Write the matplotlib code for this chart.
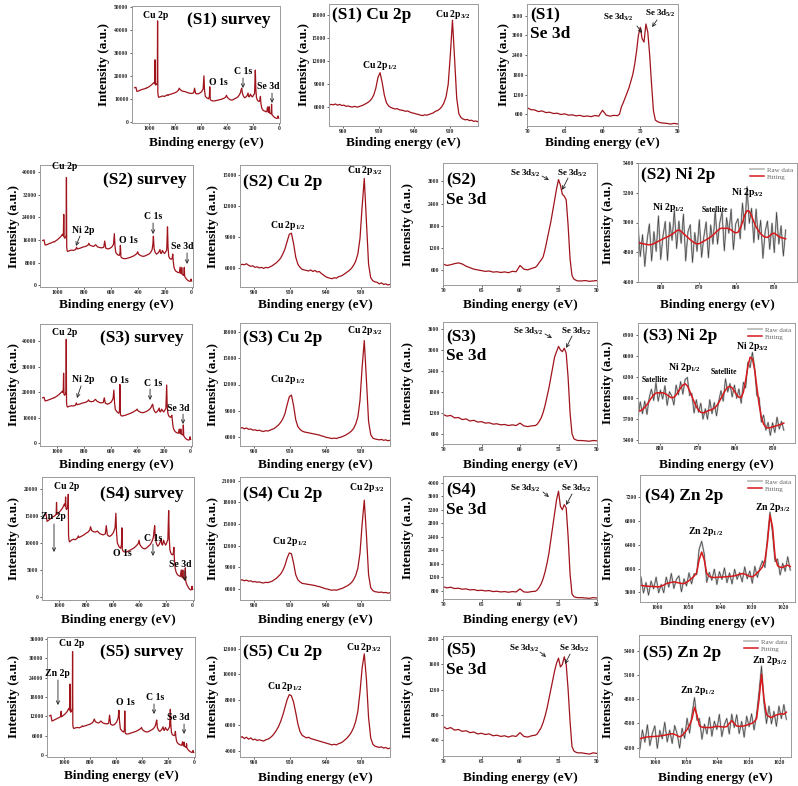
import numpy as np
import matplotlib
matplotlib.use("Agg")
from matplotlib import pyplot as plt

plt.rcParams['font.family'] = ['Liberation Serif', 'DejaVu Serif']
plt.rcParams['font.weight'] = 'bold'
plt.rcParams['mathtext.fontset'] = 'custom'
plt.rcParams['mathtext.rm'] = 'Liberation Serif:bold'
plt.rcParams['mathtext.it'] = 'Liberation Serif:bold'
plt.rcParams['mathtext.bf'] = 'Liberation Serif:bold'

# ---------------- survey spectra (shared energy axis) ----------------
survey_ev = [1110, 1100, 1092, 1080, 1065, 1050, 1035, 1024, 1021, 1018,
             1005, 990, 975, 962, 956, 953, 950, 946, 940, 935,
             933, 931, 928, 924, 910, 895, 880, 865, 857, 853,
             845, 830, 815, 800, 785, 772, 766, 758, 745, 730,
             715, 700, 685, 670, 655, 648, 640, 625, 610, 595,
             582, 576, 571, 565, 552, 540, 534, 531, 527, 518,
             505, 490, 475, 460, 445, 430, 418, 408, 402, 396,
             385, 372, 358, 345, 332, 318, 305, 295, 289, 285,
             280, 272, 262, 252, 243, 236, 232, 226, 218, 210,
             202, 194, 186, 180, 176, 171, 165, 158, 150, 145,
             141, 137, 131, 124, 116, 108, 100, 92, 86, 80,
             77, 74, 70, 64, 58, 55, 52, 48, 42, 35,
             28, 20, 14, 9, 5, 2, 0]
s1_survey = [14800, 15000, 13200, 13400, 13800, 14100, 14300, 14600, 14500, 14700,
             15000, 15600, 16300, 17000, 16600, 27000, 16200, 16000, 16400, 17200,
             44000, 13000, 11200, 10600, 10900, 11200, 11000, 11500, 11700, 11400,
             11800, 12000, 12300, 12600, 13000, 13800, 14600, 13900, 13400, 13200,
             13000, 12600, 12400, 12300, 12600, 14600, 12300, 12100, 12400, 13000,
             14200, 20000, 13500, 11000, 10300, 10000, 11000, 15200, 9600, 9200,
             9000, 9100, 9300, 9500, 9700, 10000, 10300, 10800, 11500, 10600,
             10000, 9500, 9400, 9800, 10200, 10600, 11500, 12600, 14000, 14600,
             12500, 11200, 10400, 10800, 11400, 12500, 11000, 10800, 12000, 11200,
             10800, 11600, 12200, 22500, 14000, 10500, 9500, 9000, 8800, 9400,
             11000, 8000, 6000, 5200, 4800, 4600, 4400, 4300, 6400, 4100,
             4000, 6500, 3800, 3500, 3400, 7600, 3200, 2800, 2400, 2000,
             1700, 1500, 1400, 1600, 2500, 1800, 1500]
s2_survey = [15800, 16000, 14200, 14300, 14600, 14900, 15200, 15400, 15300, 15500,
             15900, 16500, 17200, 18000, 17400, 25000, 17000, 16600, 16900, 17600,
             38000, 13600, 12300, 11900, 12200, 12400, 12300, 12600, 13400, 12800,
             12900, 13100, 13400, 13600, 13800, 14200, 14800, 14100, 13900, 13700,
             14300, 13500, 13300, 13200, 13400, 15600, 13100, 12800, 13000, 13500,
             14500, 18200, 13600, 11500, 10800, 10500, 11300, 14100, 10000, 9600,
             9400, 9400, 9600, 9800, 10100, 10400, 10800, 11200, 11800, 11000,
             10600, 10300, 10200, 10400, 10700, 11000, 11600, 12500, 14500, 17300,
             13000, 11600, 11000, 11300, 11900, 12600, 11400, 11200, 12300, 11600,
             11200, 11800, 12400, 20600, 13500, 10300, 9600, 9300, 9200, 9600,
             11000, 8400, 6200, 5400, 4900, 4700, 4500, 4400, 6400, 4200,
             4100, 6200, 3900, 3600, 3500, 6300, 3200, 2800, 2400, 2000,
             1700, 1500, 1400, 1500, 2200, 1700, 1500]
s3_survey = [17800, 18000, 16600, 16700, 17000, 17300, 17600, 17900, 17800, 18000,
             18400, 19000, 19700, 20400, 19800, 27400, 19200, 18800, 19200, 20000,
             40600, 16000, 14600, 14200, 14500, 14700, 14600, 14900, 15800, 15100,
             15200, 15400, 15700, 15900, 16100, 16500, 17000, 16400, 16300, 16400,
             17200, 16400, 16000, 15800, 16000, 17800, 15700, 15300, 15600, 16200,
             17500, 20800, 16000, 13200, 12300, 11800, 12600, 23000, 11200, 10700,
             10800, 11000, 11300, 11600, 11900, 12300, 12700, 13000, 13400, 12800,
             12400, 12100, 12000, 12200, 12500, 12900, 13500, 14200, 15000, 15300,
             13800, 12600, 12000, 12400, 13000, 13800, 12500, 12300, 13400, 12700,
             12300, 13000, 13600, 22800, 14500, 11800, 10800, 10400, 10200, 10600,
             11000, 8800, 6200, 5200, 4600, 4300, 4100, 4000, 5600, 3900,
             3800, 5600, 3700, 3400, 3300, 7200, 3000, 2600, 2200, 1800,
             1500, 1400, 1300, 1500, 2600, 1800, 1600]
s4_survey = [15200, 15400, 14000, 14200, 14500, 14800, 15000, 15300, 17500, 15300,
             15600, 16000, 16500, 17200, 16800, 18500, 16400, 16200, 16500, 17000,
             19000, 11500, 10600, 10200, 10500, 10700, 10600, 10900, 11300, 11000,
             11100, 11300, 11500, 11800, 12000, 12400, 13000, 12300, 12100, 12000,
             12200, 11800, 11600, 11500, 11700, 13200, 11500, 11200, 11400, 11900,
             12800, 15500, 12000, 10000, 9300, 9000, 9700, 12800, 8700, 8400,
             8300, 8400, 8600, 8800, 9000, 9300, 9600, 9900, 10500, 9700,
             9300, 9000, 8900, 9100, 9400, 9700, 10300, 11000, 12400, 13200,
             10800, 9900, 9400, 9700, 10200, 10800, 9800, 9600, 10500, 9900,
             9600, 10100, 10600, 16000, 11200, 8800, 8200, 7900, 7800, 8100,
             9200, 7000, 5300, 4600, 4200, 4000, 3900, 3800, 5000, 3700,
             3600, 5000, 3500, 3300, 3200, 5400, 3000, 2600, 2200, 1900,
             1600, 1400, 1300, 1400, 2000, 1600, 1400]
s5_survey = [12200, 12400, 10600, 10800, 11100, 11400, 11700, 12000, 13600, 11900,
             12300, 12800, 13500, 14500, 14000, 22000, 13600, 13300, 13800, 14600,
             32000, 9300, 8600, 8300, 8500, 8600, 8500, 8800, 9100, 8900,
             9000, 9200, 9400, 9600, 9900, 10500, 11200, 10400, 10100, 10000,
             10600, 10000, 9800, 9700, 9900, 12400, 9600, 9300, 9500, 10200,
             11500, 13900, 10400, 8200, 7500, 7200, 7800, 13700, 6800, 6600,
             6600, 6800, 7000, 7200, 7400, 7700, 8000, 8300, 8600, 8000,
             7600, 7300, 7200, 7400, 7700, 8000, 8500, 9200, 10200, 10900,
             8600, 7800, 7400, 7700, 8200, 8800, 7900, 7700, 8600, 8000,
             7700, 8200, 8800, 14200, 9200, 7000, 6400, 6200, 6100, 6400,
             7400, 5600, 4300, 3800, 3500, 3300, 3200, 3100, 4200, 3000,
             2900, 4100, 2800, 2600, 2500, 3600, 2300, 2000, 1700, 1400,
             1200, 1000, 900, 1000, 1500, 1100, 900]

# ---------------- Cu 2p spectra ----------------
cu_ev = np.arange(964.0, 921.9, -0.6)
s1_cu = [6300, 6400, 6350, 6450, 6300, 6400, 6250, 6300, 6150, 6200,
         6100, 6050, 6150, 6050, 6100, 6200, 6300, 6450, 6600, 6800,
         7100, 7600, 8500, 9900, 10500, 9200, 7600, 6600, 6200, 6000,
         5900, 5800, 5850, 5700, 5650, 5600, 5500, 5550, 5400, 5300,
         5250, 5150, 5100, 5000, 4950, 5050, 5000, 5100, 5200, 5300,
         5500, 5600, 5800, 6100, 6600, 7400, 9000, 12800, 17300, 12300,
         7200, 5200, 4700, 4500, 4400, 4450, 4300, 4350, 4200, 4250,
         4150]
s2_cu = [6300, 6400, 6350, 6450, 6300, 6200, 6250, 6100, 6150, 6050,
         6100, 6000, 6100, 6050, 6150, 6250, 6400, 6550, 6750, 7000,
         7400, 7900, 8600, 9300, 9400, 8400, 7100, 6400, 6100, 5900,
         5850, 5800, 5750, 5850, 5700, 5800, 5650, 5700, 5500, 5350,
         5200, 5100, 5050, 5000, 5100, 5050, 5200, 5250, 5350, 5500,
         5650, 5800, 6000, 6300, 6700, 7400, 8900, 12000, 14700, 10500,
         6400, 5100, 4800, 4700, 4650, 4500, 4600, 4450, 4500, 4400,
         4450]
s3_cu = [7000, 7100, 6950, 7050, 6900, 6950, 6800, 6850, 6750, 6800,
         6700, 6650, 6750, 6700, 6800, 6900, 7000, 7200, 7400, 7700,
         8100, 8700, 9700, 10600, 10800, 9600, 8000, 7200, 6900, 6700,
         6600, 6550, 6500, 6450, 6400, 6350, 6300, 6250, 6150, 6100,
         6000, 5950, 5900, 5850, 5900, 5850, 5950, 6000, 6100, 6200,
         6350, 6500, 6700, 7000, 7500, 8300, 10200, 14000, 17000, 12500,
         7800, 6300, 5900, 5800, 5750, 5700, 5750, 5650, 5700, 5600,
         5650]
s4_cu = [7200, 7300, 7150, 7250, 7100, 7150, 7000, 7050, 6950, 7000,
         6900, 6850, 6950, 6900, 7000, 7100, 7300, 7500, 7800, 8100,
         8600, 9300, 10300, 11000, 10900, 9600, 8000, 7300, 7000, 6800,
         6750, 6700, 6650, 6600, 6550, 6500, 6400, 6350, 6250, 6150,
         6050, 6000, 5900, 5850, 5900, 5850, 5950, 6050, 6150, 6300,
         6450, 6650, 6900, 7300, 7900, 8900, 11000, 15000, 18300, 13500,
         8000, 6200, 5800, 5650, 5600, 5550, 5600, 5500, 5550, 5450,
         5500]
s5_cu = [5000, 5100, 4950, 5050, 4900, 5000, 4850, 4900, 4800, 4850,
         4800, 4750, 4850, 4900, 5000, 5150, 5350, 5600, 5900, 6300,
         6800, 7400, 8000, 8400, 8300, 7800, 7000, 6100, 5500, 5200,
         5100, 5000, 5050, 4950, 4900, 4850, 4800, 4750, 4700, 4650,
         4600, 4550, 4500, 4450, 4500, 4450, 4550, 4600, 4700, 4850,
         5000, 5200, 5450, 5800, 6300, 7100, 8600, 10500, 11600, 9600,
         6600, 5000, 4500, 4350, 4300, 4250, 4300, 4200, 4250, 4150,
         4200]

# ---------------- Se 3d spectra ----------------
se_ev = np.concatenate([np.arange(70.0, 57.9, -0.5),
                        np.arange(57.75, 52.4, -0.25),
                        np.arange(52.0, 49.9, -0.5)])
s1_se = [800, 740, 730, 680, 700, 650, 660, 620, 630, 590,
         610, 570, 580, 550, 565, 530, 545, 525, 560, 540,
         720, 570, 540, 565, 555,
         600, 820, 950, 1100, 1250, 1400, 1600, 1800, 2100, 2500,
         3000, 3250, 2900, 2800, 3350, 3100, 2400, 1500, 700, 420,
         380, 350,
         330, 320, 300, 320, 300]
s2_se = [760, 720, 740, 770, 790, 760, 700, 660, 620, 600,
         580, 560, 570, 540, 550, 530, 545, 525, 560, 550,
         720, 620, 600, 640, 670,
         720, 800, 870, 950, 1150, 1400, 1650, 1900, 2200, 2500,
         2800, 3050, 2900, 2650, 2600, 2500, 1800, 900, 450, 350,
         320, 300,
         300, 310, 290, 300, 310]
s3_se = [1150, 1100, 1120, 1050, 1060, 1000, 1020, 960, 980, 930,
         940, 900, 910, 870, 880, 850, 860, 830, 850, 830,
         900, 820, 800, 820, 830,
         870, 950, 1050, 1200, 1400, 1650, 1900, 2200, 2500, 2800,
         2950, 3100, 3000, 2950, 3050, 2900, 2200, 1200, 600, 450,
         420, 400,
         400, 390, 380, 400, 390]
s4_se = [920, 880, 900, 860, 870, 840, 850, 820, 830, 800,
         810, 790, 800, 770, 780, 760, 770, 750, 770, 760,
         850, 760, 750, 770, 780,
         820, 900, 1000, 1150, 1350, 1600, 1900, 2300, 2700, 3100,
         3500, 3750, 3300, 3200, 3350, 3250, 2400, 1300, 700, 620,
         600, 590,
         590, 580, 570, 590, 580]
s5_se = [620, 580, 600, 560, 570, 540, 550, 520, 530, 500,
         510, 490, 500, 470, 480, 460, 470, 450, 470, 460,
         520, 460, 450, 470, 480,
         500, 550, 600, 680, 780, 900, 1050, 1200, 1350, 1500,
         1620, 1700, 1560, 1600, 1720, 1600, 1200, 700, 300, 230,
         210, 200,
         200, 190, 180, 200, 190]

# ---------------- Ni 2p spectra ----------------
ni_ev = np.arange(886.0, 846.9, -0.6)
s2_ni_fit = [4865, 4862, 4858, 4855, 4852, 4850, 4852, 4858, 4866, 4874,
             4882, 4890, 4897, 4904, 4912, 4920, 4932, 4945, 4950, 4940,
             4926, 4912, 4898, 4885, 4872, 4862, 4856, 4858, 4866, 4875,
             4884, 4893, 4903, 4915, 4930, 4945, 4958, 4962, 4960, 4962,
             4958, 4950, 4938, 4930, 4935, 4960, 5000, 5050, 5080, 5075,
             5045, 5005, 4970, 4945, 4925, 4910, 4902, 4900, 4910, 4925,
             4928, 4918, 4905, 4898, 4895, 4890]
s2_ni_raw = [4985, 4772, 4918, 4705, 4882, 4990, 4742, 4938, 4806, 5044,
             4752, 4910, 5007, 4744, 5002, 4880, 5082, 4825, 5010, 4860,
             5056, 4742, 4938, 4985, 4732, 4932, 4806, 5018, 4766, 4905,
             5004, 4763, 4983, 4855, 5080, 4855, 4998, 5072, 4810, 5032,
             4928, 5090, 4818, 4990, 5025, 4890, 5130, 4950, 5240, 4995,
             5095, 4865, 5090, 4885, 5015, 4760, 4942, 5010, 4820, 4995,
             4798, 5068, 4855, 4978, 4775, 4950]
s3_ni_fit = [5820, 5810, 5830, 5860, 5900, 5950, 6000, 6040, 6065, 6070,
             6068, 6070, 6060, 6040, 6015, 5998, 6005, 6040, 6090, 6140,
             6180, 6200, 6170, 6100, 6020, 5940, 5870, 5820, 5790, 5782,
             5790, 5810, 5820, 5830, 5850, 5880, 5930, 5990, 6050, 6110,
             6150, 6162, 6140, 6090, 6040, 6005, 6000, 6080, 6250, 6450,
             6580, 6560, 6400, 6150, 5900, 5720, 5620, 5575, 5565, 5570,
             5580, 5590, 5600, 5610, 5620, 5635]
s3_ni_raw = [5720, 5940, 5770, 5950, 5760, 6000, 6120, 5960, 6215, 5950,
             6108, 5980, 6170, 5890, 6085, 6028, 5895, 6180, 6040, 6230,
             6050, 6260, 6290, 6030, 6060, 5780, 5970, 5790, 5920, 5692,
             5840, 5690, 5970, 5770, 5930, 5740, 5950, 6100, 5950, 6270,
             6080, 6202, 6010, 6180, 5990, 6125, 5920, 6220, 6140, 6510,
             6430, 6650, 6430, 6030, 6000, 5650, 5750, 5535, 5645, 5460,
             5640, 5500, 5720, 5550, 5660, 5535]

# ---------------- Zn 2p spectra ----------------
zn_ev = np.arange(1065.0, 1017.7, -0.8)
s4_zn_fit = [5720, 5712, 5708, 5705, 5702, 5700, 5697, 5694, 5705, 5725,
             5748, 5760, 5770, 5778, 5770, 5760, 5752, 5750, 5770, 5800,
             5835, 5875, 5930, 6150, 6280, 6150, 5920, 5870, 5855, 5852,
             5855, 5860, 5858, 5862, 5866, 5870, 5874, 5880, 5892, 5905,
             5918, 5910, 5890, 5870, 5865, 5890, 5935, 5975, 6030, 6140,
             6450, 6900, 6700, 6200, 6050, 6025, 6020, 6045, 6060, 6035]
s4_zn_raw = [5860, 5592, 5768, 5555, 5792, 5660, 5857, 5594, 5735, 5595,
             5858, 5690, 5920, 5668, 5820, 5880, 5612, 5830, 5710, 5930,
             5745, 5915, 5900, 6330, 6460, 6250, 5770, 5940, 5805, 5992,
             5735, 5950, 5818, 6012, 5766, 5930, 5744, 5990, 5822, 5935,
             5778, 6030, 5830, 5960, 5755, 6040, 5855, 6015, 6130, 6020,
             6510, 6950, 6600, 6120, 6160, 5895, 6090, 5955, 6200, 5975]
s5_zn_fit = [4312, 4320, 4328, 4333, 4336, 4338, 4340, 4342, 4345, 4350,
             4355, 4362, 4368, 4373, 4365, 4350, 4335, 4350, 4385, 4425,
             4480, 4560, 4700, 4600, 4470, 4455, 4452, 4450, 4449, 4452,
             4458, 4465, 4462, 4458, 4456, 4462, 4500, 4535, 4500, 4468,
             4465, 4466, 4470, 4480, 4490, 4500, 4520, 4560, 4800, 5110,
             4800, 4610, 4585, 4575, 4590, 4605, 4615, 4620, 4614, 4640]
s5_zn_raw = [4182, 4420, 4268, 4483, 4226, 4378, 4470, 4192, 4415, 4310,
             4515, 4272, 4418, 4253, 4475, 4370, 4195, 4440, 4315, 4565,
             4380, 4620, 4820, 4540, 4560, 4305, 4492, 4370, 4579, 4342,
             4528, 4425, 4612, 4338, 4486, 4562, 4370, 4615, 4450, 4608,
             4375, 4526, 4330, 4590, 4460, 4620, 4420, 4610, 4890, 5210,
             4750, 4500, 4715, 4495, 4650, 4465, 4715, 4560, 4734, 4550]

survey_xt = [1000, 800, 600, 400, 200, 0]
cu_xt = [960, 950, 940, 930]
se_xt = [70, 65, 60, 55, 50]
ni_xt = [880, 870, 860, 850]
zn_xt = [1060, 1050, 1040, 1030, 1020]

RED = '#a0141c'
FIT = '#d7191c'
FW, FH = 798, 786
fig = plt.figure(figsize=(FW / 100, FH / 100), dpi=100)


def panel(box, xlim, xticks, ylim, yticks, ylab_x, xlab_y):
    l, t, r, b = box
    ax = fig.add_axes([l / FW, 1 - b / FH, (r - l) / FW, (b - t) / FH])
    ax.set_xlim(*xlim)
    ax.set_ylim(*ylim)
    ax.set_xticks(xticks)
    ax.set_yticks(list(yticks))
    ax.tick_params(direction='out', length=1.5, width=0.5, labelsize=4, pad=1, colors='#222222')
    for sp in ax.spines.values():
        sp.set_color('#9a9a9a')
        sp.set_linewidth(0.7)
    ax.set_xlabel('Binding energy (eV)', fontsize=9.5, fontweight='bold')
    ax.xaxis.set_label_coords(0.5, (b - xlab_y + 6) / (b - t))
    ax.set_ylabel('Intensity (a.u.)', fontsize=9.5, fontweight='bold')
    ax.yaxis.set_label_coords((ylab_x + 7 - l) / (r - l), 0.5)
    return ax


def note(ax, s, fx, fy, size=7, ha='center'):
    ax.text(fx, fy, s, transform=ax.transAxes, ha=ha, va='center',
            fontsize=size, fontweight='bold')


def arrow(ax, x0, y0, x1, y1):
    ax.annotate('', xy=(x1, y1), xytext=(x0, y0), xycoords='axes fraction',
                textcoords='axes fraction',
                arrowprops=dict(arrowstyle='->', lw=0.6, color='#222222',
                                shrinkA=0, shrinkB=0, mutation_scale=6))


def raw_fit(ax, ev, raw, fit):
    ax.plot(ev, raw, color='#bdbdbd', lw=1.3, label='Raw data')
    ax.plot(ev, raw, color='#3c3c3c', lw=0.45)
    ax.plot(ev, fit, color=FIT, lw=1.1, label='Fitting')
    ax.legend(loc='upper right', frameon=False, prop={'size': 5, 'weight': 'normal'},
              handlelength=2.0, borderaxespad=0.15, labelspacing=0.15,
              handletextpad=0.4, labelcolor='#666666')


CU12 = 'Cu 2p$_{1/2}$'
CU32 = 'Cu 2p$_{3/2}$'
SE32 = 'Se 3d$_{3/2}$'
SE52 = 'Se 3d$_{5/2}$'

# ---------------- row 1 ----------------
ax = panel((132, 6, 280, 123), (1130, -10), survey_xt, (-600, 50500), range(0, 50001, 10000), 103, 143)
ax.plot(survey_ev, s1_survey, color=RED, lw=0.9)
note(ax, '(S1) survey', .372, .88, 12.5, 'left')
note(ax, 'Cu 2p', .162, .923)
note(ax, 'O 1s', .581, .35)
note(ax, 'C 1s', .75, .436)
arrow(ax, .75, .385, .75, .299)
note(ax, 'Se 3d', .919, .308)
arrow(ax, .946, .256, .946, .171)

ax = panel((329, 4, 478, 126), (964, 922), cu_xt, (3600, 19400), range(6000, 18001, 3000), 303, 143)
ax.plot(cu_ev, s1_cu, color=RED, lw=0.9)
note(ax, '(S1) Cu 2p', .02, .91, 12.5, 'left')
note(ax, CU12, .342, .50)
note(ax, CU32, .832, .91)

ax = panel((527, 4, 678, 126), (70, 50), se_xt, (240, 3960), range(600, 3601, 600), 503, 143)
ax.plot(se_ev, s1_se, color=RED, lw=0.9)
note(ax, '(S1)', .02, .91, 12.5, 'left')
note(ax, 'Se 3d', .02, .754, 12.5, 'left')
note(ax, SE32, .603, .893, 6.5)
note(ax, SE52, .881, .926, 6.5)
arrow(ax, .728, .82, .762, .762)
arrow(ax, .861, .869, .828, .811)

# ---------------- row 2 ----------------
ax = panel((40, 165, 193, 287), (1130, -10), survey_xt, (-600, 42400), range(0, 40001, 8000), 13, 305)
ax.plot(survey_ev, s2_survey, color=RED, lw=0.9)
note(ax, '(S2) survey', .412, .877, 12.5, 'left')
note(ax, 'Cu 2p', .163, .985)
note(ax, 'Ni 2p', .281, .467)
arrow(ax, .261, .418, .235, .336)
note(ax, 'O 1s', .575, .385)
note(ax, 'C 1s', .739, .574)
arrow(ax, .739, .525, .739, .434)
note(ax, 'Se 3d', .928, .328)
arrow(ax, .961, .279, .961, .189)

ax = panel((240, 165, 390, 287), (964, 922), cu_xt, (4200, 16000), range(6000, 15001, 3000), 212, 305)
ax.plot(cu_ev, s2_cu, color=RED, lw=0.9)
note(ax, '(S2) Cu 2p', .02, .86, 12.5, 'left')
note(ax, CU12, .32, .508)
note(ax, CU32, .833, .959)

ax = panel((443, 163, 597, 285), (70, 50), se_xt, (190, 3500), range(600, 3001, 600), 407, 305)
ax.plot(se_ev, s2_se, color=RED, lw=0.9)
note(ax, '(S2)', .02, .86, 12.5, 'left')
note(ax, 'Se 3d', .02, .697, 12.5, 'left')
note(ax, SE32, .532, .918, 6.5)
note(ax, SE52, .838, .918, 6.5)
arrow(ax, .643, .893, .688, .861)
arrow(ax, .812, .877, .773, .779)

ax = panel((638, 163, 797, 282), (886, 844), ni_xt, (4600, 5400), range(4600, 5401, 200), 607, 305)
raw_fit(ax, ni_ev, s2_ni_raw, s2_ni_fit)
note(ax, '(S2) Ni 2p', .02, .899, 12.5, 'left')
note(ax, 'Ni 2p$_{1/2}$', .189, .63)
note(ax, 'Satellite', .484, .605, 5.5)
note(ax, 'Ni 2p$_{3/2}$', .686, .748)

# ---------------- row 3 ----------------
ax = panel((40, 324, 192, 446), (1130, -10), survey_xt, (-1000, 46600), range(0, 40001, 10000), 13, 465)
ax.plot(survey_ev, s3_survey, color=RED, lw=0.9)
note(ax, '(S3) survey', .395, .885, 12.5, 'left')
note(ax, 'Cu 2p', .164, .934)
note(ax, 'Ni 2p', .283, .541)
arrow(ax, .27, .492, .243, .393)
note(ax, 'O 1s', .52, .533)
note(ax, 'C 1s', .743, .516)
arrow(ax, .724, .467, .724, .377)
note(ax, 'Se 3d', .908, .311)
arrow(ax, .941, .262, .941, .18)

ax = panel((240, 323, 390, 446), (964, 922), cu_xt, (5000, 19000), range(6000, 18001, 3000), 212, 465)
ax.plot(cu_ev, s3_cu, color=RED, lw=0.9)
note(ax, '(S3) Cu 2p', .02, .878, 12.5, 'left')
note(ax, CU12, .32, .537)
note(ax, CU32, .833, .943)

ax = panel((443, 322, 597, 444), (70, 50), se_xt, (300, 3800), range(600, 3601, 600), 407, 465)
ax.plot(se_ev, s3_se, color=RED, lw=0.9)
note(ax, '(S3)', .02, .877, 12.5, 'left')
note(ax, 'Se 3d', .02, .721, 12.5, 'left')
note(ax, SE32, .552, .926, 6.5)
note(ax, SE52, .864, .926, 6.5)
arrow(ax, .662, .902, .708, .869)
arrow(ax, .838, .885, .799, .787)

ax = panel((638, 323, 795, 443), (886, 844), ni_xt, (5350, 7070), range(5400, 6901, 300), 607, 465)
raw_fit(ax, ni_ev, s3_ni_raw, s3_ni_fit)
note(ax, '(S3) Ni 2p', .032, .892, 12.5, 'left')
note(ax, 'Satellite', .108, .525, 5.5)
note(ax, 'Ni 2p$_{1/2}$', .299, .633)
note(ax, 'Satellite', .548, .592, 5.5)
note(ax, 'Ni 2p$_{3/2}$', .726, .80)

# ---------------- row 4 ----------------
ax = panel((42, 477, 194, 600), (1130, -10), survey_xt, (-550, 22200), range(0, 20001, 5000), 13, 620)
ax.plot(survey_ev, s4_survey, color=RED, lw=0.9)
note(ax, '(S4) survey', .382, .862, 12.5, 'left')
note(ax, 'Cu 2p', .164, .919)
note(ax, 'Zn 2p', .072, .675)
arrow(ax, .079, .618, .079, .39)
note(ax, 'O 1s', .526, .382)
note(ax, 'C 1s', .73, .504)
arrow(ax, .73, .455, .73, .358)
note(ax, 'Se 3d', .908, .285)
arrow(ax, .94, .236, .94, .154)

ax = panel((240, 477, 390, 600), (964, 922), cu_xt, (4500, 21500), range(6000, 21001, 3000), 212, 620)
ax.plot(cu_ev, s4_cu, color=RED, lw=0.9)
note(ax, '(S4) Cu 2p', .02, .862, 12.5, 'left')
note(ax, CU12, .333, .472)
note(ax, CU32, .847, .911)

ax = panel((443, 476, 597, 599), (70, 50), se_xt, (550, 4200), range(800, 4001, 400), 407, 620)
ax.plot(se_ev, s4_se, color=RED, lw=0.9)
note(ax, '(S4)', .02, .886, 12.5, 'left')
note(ax, 'Se 3d', .02, .724, 12.5, 'left')
note(ax, SE32, .532, .902, 6.5)
note(ax, SE52, .864, .902, 6.5)
arrow(ax, .649, .87, .688, .829)
arrow(ax, .838, .854, .799, .764)

ax = panel((640, 475, 795, 602), (1065.3, 1016.3), zn_xt, (5440, 7575), range(5600, 7201, 400), 607, 622)
raw_fit(ax, zn_ev, s4_zn_raw, s4_zn_fit)
note(ax, '(S4) Zn 2p', .032, .835, 12.5, 'left')
note(ax, 'Zn 2p$_{1/2}$', .426, .559)
note(ax, 'Zn 2p$_{3/2}$', .852, .748)

# ---------------- row 5 ----------------
ax = panel((47, 637, 195, 757), (1130, -10), survey_xt, (-500, 36500), range(0, 36001, 6000), 13, 776)
ax.plot(survey_ev, s5_survey, color=RED, lw=0.9)
note(ax, '(S5) survey', .358, .875, 12.5, 'left')
note(ax, 'Cu 2p', .169, .942)
note(ax, 'Zn 2p', .068, .70)
arrow(ax, .074, .642, .074, .433)
note(ax, 'O 1s', .527, .458)
note(ax, 'C 1s', .73, .492)
arrow(ax, .723, .442, .723, .358)
note(ax, 'Se 3d', .885, .325)
arrow(ax, .926, .275, .926, .192)

ax = panel((240, 636, 390, 757), (964, 922), cu_xt, (3500, 13000), range(4000, 12001, 2000), 212, 778)
ax.plot(cu_ev, s5_cu, color=RED, lw=0.9)
note(ax, '(S5) Cu 2p', .02, .868, 12.5, 'left')
note(ax, CU12, .30, .58)
note(ax, CU32, .827, .909)

ax = panel((443, 636, 597, 756), (70, 50), se_xt, (150, 2050), range(400, 2001, 400), 407, 778)
ax.plot(se_ev, s5_se, color=RED, lw=0.9)
note(ax, '(S5)', .02, .883, 12.5, 'left')
note(ax, 'Se 3d', .02, .717, 12.5, 'left')
note(ax, SE32, .526, .90, 6.5)
note(ax, SE52, .851, .90, 6.5)
arrow(ax, .63, .867, .669, .825)
arrow(ax, .825, .85, .792, .767)

ax = panel((639, 635, 791, 757), (1065.3, 1016.3), zn_xt, (4085, 5595), range(4200, 5401, 300), 607, 778)
raw_fit(ax, zn_ev, s5_zn_raw, s5_zn_fit)
note(ax, '(S5) Zn 2p', .026, .852, 12.5, 'left')
note(ax, 'Zn 2p$_{1/2}$', .382, .541)
note(ax, 'Zn 2p$_{3/2}$', .862, .795)

plt.savefig('out.png', dpi=100)
